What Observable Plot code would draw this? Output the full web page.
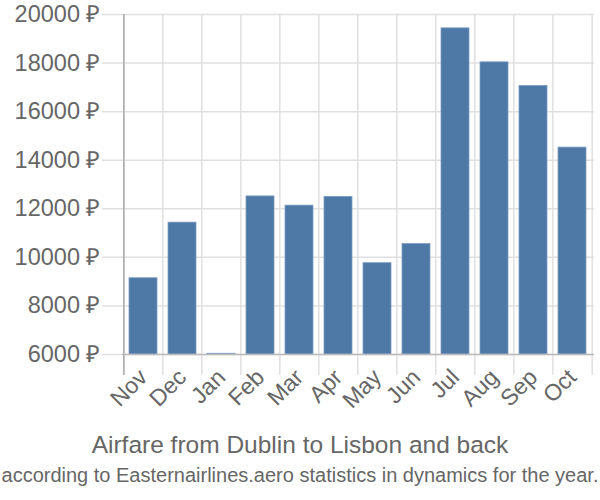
<!DOCTYPE html>
<html>
<head>
<meta charset="utf-8">
<script src="https://cdn.jsdelivr.net/npm/d3@7"></script>
<script src="https://cdn.jsdelivr.net/npm/@observablehq/plot@0.6"></script>
<style>
  body { margin: 0; background: #fff; width: 600px; height: 500px; position: relative; overflow: hidden; font-family: "Liberation Sans", Arial, sans-serif; }
  #title { position: absolute; left: 0; width: 600px; top: 431px; text-align: center; font-size: 24.5px; line-height: 28px; color: #666; white-space: nowrap; }
  #subtitle { position: absolute; left: -50px; width: 700px; top: 462px; text-align: center; font-size: 20px; line-height: 26px; color: #666; white-space: nowrap; }
</style>
</head>
<body>
<div id="chart"></div>
<div id="title">Airfare from Dublin to Lisbon and back</div>
<div id="subtitle">according to Easternairlines.aero statistics in dynamics for the year.</div>
<script>
const months = ["Nov","Dec","Jan","Feb","Mar","Apr","May","Jun","Jul","Aug","Sep","Oct"];
const prices = [9140, 11430, 6030, 12510, 12130, 12490, 9760, 10550, 19430, 18030, 17060, 14520];
const yTicks = [6000, 8000, 10000, 12000, 14000, 16000, 18000, 20000];
const currency = "₽";

const data = months.map((m, i) => ({month: m, price: prices[i]}));

const W = 600, ML = 122, MR = 6;
const step = (W - ML - MR) / months.length;

const chart = Plot.plot({
  width: W,
  height: 425,
  marginLeft: ML,
  marginRight: MR,
  marginTop: 14,
  marginBottom: 71,
  style: {fontFamily: "Liberation Sans, Arial, sans-serif", fontSize: "23px", color: "#666", background: "#fff", overflow: "visible"},
  x: {domain: months, paddingInner: 0.28, paddingOuter: 0.14, label: null},
  y: {domain: [6000, 20000], label: null},
  marks: [
    Plot.ruleY(yTicks, {stroke: "#e0e0e0", strokeWidth: 1.5, insetLeft: -20}),
    Plot.ruleX(months, {stroke: "#e0e0e0", strokeWidth: 1.5, dx: -step / 2, insetBottom: -21}),
    Plot.ruleX([months[months.length - 1]], {stroke: "#e0e0e0", strokeWidth: 1.5, dx: step / 2, insetBottom: -21}),
    Plot.barY(data, {x: "month", y1: 6000, y2: "price", fill: "#4e79a7", stroke: "#7d9dc2", strokeWidth: 0.8}),
    Plot.ruleX([months[0]], {stroke: "#aaa", strokeWidth: 1.5, dx: -step / 2, insetBottom: -21}),
    Plot.ruleY([6000], {stroke: "#bbb", strokeWidth: 1.5}),
    Plot.axisY({ticks: yTicks, tickSize: 0, tickPadding: 22, tickFormat: d => `${d} ${currency}`, fill: "#666", fontSize: 23.5}),
    Plot.axisX({tickSize: 0, tickRotate: -45, tickPadding: 19, fill: "#666", fontSize: 23, textAnchor: "end"})
  ]
});
document.getElementById("chart").appendChild(chart);
</script>
</body>
</html>
